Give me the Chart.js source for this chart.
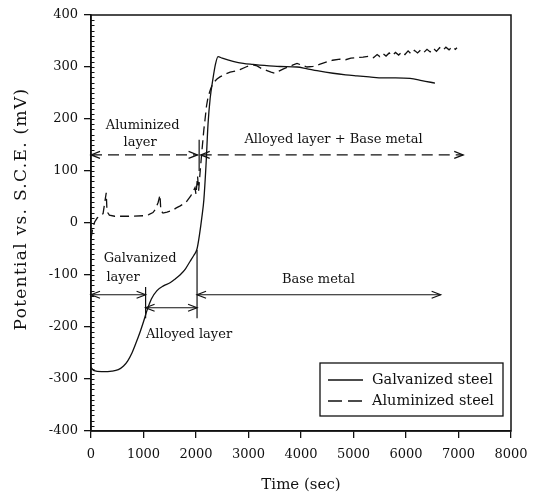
<!DOCTYPE html>
<html><head><meta charset="utf-8">
<script src="https://cdn.jsdelivr.net/npm/chart.js@4.4.0/dist/chart.umd.min.js"></script>
<style>html,body{margin:0;padding:0;background:#fff}</style>
</head><body>
<canvas id="c" width="540" height="494"></canvas>
<script>
// ---- data ----
const seriesNames = ['Galvanized steel', 'Aluminized steel'];
const xTickValues = [0,1000,2000,3000,4000,5000,6000,7000,8000];
const yTickValues = [-400,-300,-200,-100,0,100,200,300,400];
const xTitle = 'Time (sec)';
const yTitle = 'Potential vs. S.C.E. (mV)';

const galvT = [0,60,200,400,520,620,700,780,860,940,1000,1067,1150,1257,1380,1505,1600,1695,1800,1886,1960,2019,2070,2110,2150,2190,2229,2270,2324,2370,2419,2500,2705,2900,3086,3300,3600,3924,4100,4305,4610,4850,5067,5300,5562,5800,6076,6300,6552];
const galvV = [-278,-284,-286,-285,-282,-275,-265,-250,-230,-208,-190,-168,-146,-130,-121,-115,-108,-100,-88,-74,-62,-50,-20,10,45,110,190,240,278,305,320,317,311,307,305,303,301,300,297,293,288,285,283,281,279,279,278,274,269];

const aluT = [0,30,70,120,180,230,270,290,305,350,450,600,800,1000,1100,1180,1230,1280,1314,1330,1371,1448,1550,1625,1700,1810,1900,1981,2000,2030,2050,2080,2114,2150,2171,2200,2229,2280,2324,2400,2457,2550,2650,2750,2838,2950,3000,3086,3162,3250,3352,3430,3505,3580,3657,3750,3850,3924,4000,4114,4229,4350,4495,4600,4743,4850,4950,5067,5181,5300,5380,5450,5500,5560,5620,5680,5740,5800,5860,5920,5980,6040,6100,6160,6220,6280,6340,6400,6460,6520,6580,6640,6700,6760,6820,6880,6940,6971];
const aluV = [-30,-12,2,10,14,18,45,58,22,15,13,13,13,14,16,20,27,40,54,24,19,21,24,29,33,40,52,68,55,90,62,100,140,180,198,225,242,258,269,277,281,286,290,292,295,300,302,304,302,297,293,290,288,292,296,300,304,307,304,300,301,305,310,313,315,314,317,318,319,321,318,324,320,326,321,327,322,328,323,329,324,331,325,332,327,333,328,334,329,336,330,337,332,338,333,339,334,337];

// annotation arrows (data units)
const arrowX1 = [0, 2090, 0, 1040, 2020];
const arrowX2 = [2030, 7090, 1040, 2020, 6660];
const arrowY  = [131, 131, -138, -163, -138];
const arrowDashed = [true, true, false, false, false];
// marker lines
const markX  = [1040, 2020, 2060];
const markY1 = [-123, -52, 100];
const markY2 = [-183, -183, 160];
// text labels
const labelText = ['Aluminized','layer','Alloyed layer + Base metal','Galvanized','layer','Alloyed layer','Base metal'];
const labelX = [985, 935, 4620, 935, 610, 1867, 4333];
const labelY = [188, 154, 160, -69, -106, -215, -108];

const FONT = 'DejaVu Serif';
const ink = '#111';

const deco = {
  id: 'deco',
  afterDatasetsDraw(chart) {
    const {ctx, chartArea: a, scales: {x, y}} = chart;
    ctx.save();
    ctx.strokeStyle = ink; ctx.fillStyle = ink;
    ctx.lineWidth = 1.5;
    ctx.strokeRect(a.left, a.top, a.right - a.left, a.bottom - a.top);
    ctx.lineWidth = 1;
    ctx.beginPath();
    for (let v = -390; v < 400; v += 10) {
      const py = Math.round(y.getPixelForValue(v)) + 0.5;
      ctx.moveTo(a.left, py); ctx.lineTo(a.left + 3.5, py);
    }
    ctx.stroke();
    function head(px, py, dir) {
      ctx.beginPath();
      ctx.moveTo(px - dir * 9, py - 3.5);
      ctx.lineTo(px, py);
      ctx.lineTo(px - dir * 9, py + 3.5);
      ctx.stroke();
    }
    ctx.lineWidth = 1.2;
    for (let i = 0; i < arrowX1.length; i++) {
      const x1 = x.getPixelForValue(arrowX1[i]), x2 = x.getPixelForValue(arrowX2[i]);
      const py = y.getPixelForValue(arrowY[i]);
      ctx.setLineDash(arrowDashed[i] ? [11, 6] : []);
      ctx.beginPath(); ctx.moveTo(x1, py); ctx.lineTo(x2, py); ctx.stroke();
      ctx.setLineDash([]);
      head(x1, py, -1); head(x2, py, 1);
    }
    for (let i = 0; i < markX.length; i++) {
      const px = x.getPixelForValue(markX[i]);
      ctx.beginPath();
      ctx.moveTo(px, y.getPixelForValue(markY1[i]));
      ctx.lineTo(px, y.getPixelForValue(markY2[i]));
      ctx.stroke();
    }
    ctx.font = '13px "' + FONT + '"';
    ctx.textAlign = 'center'; ctx.textBaseline = 'middle';
    for (let i = 0; i < labelText.length; i++) {
      ctx.fillText(labelText[i], x.getPixelForValue(labelX[i]), y.getPixelForValue(labelY[i]));
    }
    // legend
    const L = a.right - 191, T = a.bottom - 68, R = a.right - 8, B = a.bottom - 15;
    ctx.fillStyle = '#fff';
    ctx.fillRect(L, T, R - L, B - T);
    ctx.fillStyle = ink;
    ctx.lineWidth = 1.3;
    ctx.strokeRect(L, T, R - L, B - T);
    const rows = [T + 17, T + 38];
    ctx.beginPath(); ctx.moveTo(L + 8, rows[0]); ctx.lineTo(L + 43, rows[0]); ctx.stroke();
    ctx.setLineDash([14, 6]);
    ctx.beginPath(); ctx.moveTo(L + 8, rows[1]); ctx.lineTo(L + 43, rows[1]); ctx.stroke();
    ctx.setLineDash([]);
    ctx.font = '14.5px "' + FONT + '"';
    ctx.textAlign = 'left';
    ctx.fillText(seriesNames[0], L + 52, rows[0]);
    ctx.fillText(seriesNames[1], L + 52, rows[1]);
    // y axis title
    ctx.save();
    ctx.translate(22, (a.top + a.bottom) / 2 - 14);
    ctx.rotate(-Math.PI / 2);
    ctx.font = '17px "' + FONT + '"';
    ctx.textAlign = 'center'; ctx.textBaseline = 'middle';
    if ('letterSpacing' in ctx) ctx.letterSpacing = '1.3px';
    ctx.fillText(yTitle, 0, 0);
    ctx.restore();
    ctx.restore();
  }
};

const tickFont = {family: FONT, size: 13};
new Chart(document.getElementById('c'), {
  type: 'scatter',
  data: {
    datasets: [
      {label: seriesNames[0], data: galvT.map((t, i) => ({x: t, y: galvV[i]})), showLine: true,
       borderColor: ink, borderWidth: 1.3, pointRadius: 0, cubicInterpolationMode: 'monotone'},
      {label: seriesNames[1], data: aluT.map((t, i) => ({x: t, y: aluV[i]})), showLine: true,
       borderColor: ink, borderWidth: 1.3, borderDash: [9, 5], pointRadius: 0, tension: 0}
    ]
  },
  options: {
    responsive: false, animation: false, devicePixelRatio: 1,
    layout: {padding: {left: 0, right: 29, top: 15, bottom: 0}},
    plugins: {legend: {display: false}, tooltip: {enabled: false}},
    scales: {
      x: {
        type: 'linear', min: 0, max: 8000,
        afterBuildTicks: s => { s.ticks = xTickValues.map(v => ({value: v})); },
        afterFit: s => { s.height = 63; },
        ticks: {font: tickFont, color: ink, padding: 9, maxRotation: 0, autoSkip: false, callback: v => String(v)},
        grid: {drawOnChartArea: false, tickLength: 7, color: ink, lineWidth: 1.3},
        border: {color: ink, width: 1.5},
        title: {display: true, text: xTitle, font: {family: FONT, size: 15}, color: ink, padding: {top: 0, bottom: 0}}
      },
      y: {
        type: 'linear', min: -400, max: 400,
        afterBuildTicks: s => { s.ticks = yTickValues.map(v => ({value: v})); },
        afterFit: s => { s.width = 91; },
        ticks: {font: tickFont, color: ink, padding: 6, autoSkip: false, callback: v => String(v)},
        grid: {drawOnChartArea: false, tickLength: 7, color: ink, lineWidth: 1.3},
        border: {color: ink, width: 1.5},
        title: {display: false}
      }
    }
  },
  plugins: [deco]
});
</script>
</body></html>
